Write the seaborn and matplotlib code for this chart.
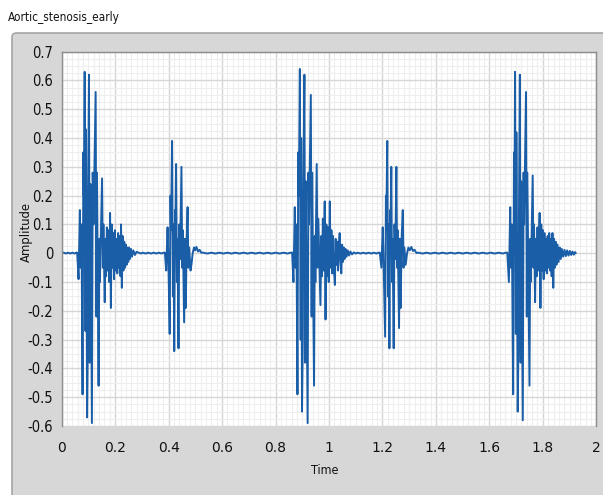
import numpy as np
import pandas as pd
import matplotlib.pyplot as plt
import seaborn as sns
from matplotlib.patches import FancyBboxPatch
from matplotlib.ticker import MultipleLocator

# (time, amplitude) points, one list per stretch of signal
quiet_0 = [(0.000, 0.001), (0.008, 0.002), (0.016, -0.001), (0.024, 0.002), (0.032, -0.001),
           (0.040, 0.002), (0.048, -0.001), (0.054, 0.002)]

s1_beat1 = [(0.058, 0.002), (0.063, -0.09), (0.068, 0.15), (0.071, -0.05), (0.074, 0.10),
            (0.078, -0.49), (0.081, 0.35), (0.083, 0.20), (0.086, 0.63), (0.089, -0.27),
            (0.091, 0.43), (0.095, -0.57), (0.098, -0.30), (0.099, 0.20), (0.102, 0.62),
            (0.105, -0.38), (0.108, 0.24), (0.113, -0.59), (0.116, 0.28), (0.119, 0.10),
            (0.127, 0.56), (0.130, -0.22), (0.132, 0.28), (0.138, -0.46), (0.141, 0.05),
            (0.143, -0.10), (0.151, 0.26), (0.154, -0.05), (0.156, 0.10), (0.161, -0.17),
            (0.164, 0.05), (0.166, -0.08), (0.169, 0.09), (0.172, -0.06), (0.175, 0.08),
            (0.178, -0.10), (0.181, 0.14), (0.184, -0.19), (0.187, 0.10), (0.190, -0.05),
            (0.193, 0.07), (0.196, -0.09), (0.199, 0.08), (0.202, -0.06), (0.205, 0.05),
            (0.208, -0.07), (0.211, 0.07), (0.214, -0.05), (0.217, 0.06), (0.220, -0.08),
            (0.222, 0.10), (0.225, -0.12), (0.228, 0.06), (0.231, -0.06), (0.234, 0.04),
            (0.237, -0.05), (0.240, 0.03), (0.243, -0.04), (0.246, 0.02), (0.249, -0.03),
            (0.252, 0.02), (0.255, -0.02), (0.259, 0.015), (0.263, -0.012), (0.268, 0.01),
            (0.274, -0.006), (0.280, 0.005)]

quiet_1 = [(0.288, 0.002), (0.296, -0.001), (0.304, 0.002), (0.314, -0.001), (0.324, 0.002),
           (0.334, -0.001), (0.344, 0.002), (0.354, -0.001), (0.364, 0.002), (0.374, -0.001),
           (0.381, 0.002)]

s2_beat1 = [(0.386, 0.002), (0.391, -0.06), (0.396, 0.09), (0.399, -0.02), (0.404, -0.28),
            (0.407, 0.20), (0.409, 0.08), (0.413, 0.39), (0.416, -0.15), (0.418, 0.10),
            (0.421, -0.34), (0.424, 0.15), (0.425, 0.05), (0.428, 0.31), (0.431, -0.10),
            (0.433, 0.05), (0.437, -0.33), (0.440, 0.10), (0.443, -0.02), (0.448, 0.30),
            (0.451, -0.05), (0.453, 0.08), (0.458, -0.24), (0.461, 0.05), (0.464, -0.19),
            (0.468, 0.06), (0.471, 0.16), (0.474, -0.05), (0.477, 0.02), (0.482, -0.06),
            (0.486, -0.035), (0.490, 0.00), (0.495, 0.02), (0.499, 0.01), (0.504, 0.022),
            (0.510, 0.006), (0.516, 0.012), (0.522, 0.002)]

quiet_2 = [(0.530, 0.002), (0.545, -0.001), (0.560, 0.002), (0.575, -0.001), (0.590, 0.002),
           (0.605, -0.001), (0.620, 0.002), (0.635, -0.001), (0.650, 0.002), (0.665, -0.001),
           (0.680, 0.002), (0.695, -0.001), (0.710, 0.002), (0.725, -0.001), (0.740, 0.002),
           (0.755, -0.001), (0.770, 0.002), (0.785, -0.001), (0.800, 0.002), (0.815, -0.001),
           (0.830, 0.002), (0.845, -0.001), (0.856, 0.002)]

s1_beat2 = [(0.862, 0.002), (0.867, -0.10), (0.872, 0.16), (0.875, -0.05), (0.878, 0.10),
            (0.882, -0.49), (0.885, 0.35), (0.887, 0.20), (0.891, 0.64), (0.894, -0.30),
            (0.896, 0.40), (0.899, -0.55), (0.902, -0.30), (0.904, 0.22), (0.908, 0.62),
            (0.911, -0.38), (0.913, 0.25), (0.920, -0.59), (0.923, 0.28), (0.925, 0.10),
            (0.932, 0.55), (0.935, -0.22), (0.937, 0.28), (0.944, -0.46), (0.947, 0.06),
            (0.949, -0.10), (0.954, 0.31), (0.957, -0.05), (0.960, 0.12), (0.968, -0.18),
            (0.971, 0.06), (0.974, -0.08), (0.977, 0.12), (0.980, -0.06), (0.984, 0.18),
            (0.987, -0.23), (0.990, 0.10), (0.993, -0.08), (0.996, 0.09), (0.999, -0.10),
            (1.003, 0.18), (1.006, -0.05), (1.009, 0.08), (1.012, -0.07), (1.015, 0.06),
            (1.018, -0.05), (1.022, -0.11), (1.025, 0.05), (1.028, -0.04), (1.031, 0.04),
            (1.034, -0.06), (1.037, 0.03), (1.040, 0.07), (1.043, -0.03), (1.046, -0.07),
            (1.049, 0.03), (1.052, -0.03), (1.055, 0.02), (1.058, -0.02), (1.062, 0.015),
            (1.066, -0.012), (1.070, 0.01), (1.075, -0.008), (1.080, 0.006), (1.086, -0.004),
            (1.093, 0.003), (1.100, -0.001)]

quiet_3 = [(1.108, 0.002), (1.118, -0.001), (1.128, 0.002), (1.138, -0.001), (1.148, 0.002),
           (1.158, -0.001), (1.168, 0.002), (1.178, -0.001), (1.185, 0.002)]

s2_beat2 = [(1.190, 0.002), (1.196, -0.05), (1.201, 0.09), (1.204, -0.02), (1.210, -0.29),
            (1.213, 0.20), (1.214, 0.08), (1.218, 0.39), (1.221, -0.15), (1.223, 0.10),
            (1.226, -0.33), (1.229, 0.15), (1.230, 0.05), (1.233, 0.30), (1.236, -0.10),
            (1.238, 0.05), (1.242, -0.33), (1.245, 0.10), (1.248, -0.02), (1.252, 0.30),
            (1.255, -0.05), (1.257, 0.08), (1.262, -0.26), (1.265, 0.05), (1.268, -0.19),
            (1.272, 0.06), (1.276, 0.15), (1.279, -0.05), (1.282, 0.02), (1.287, -0.04),
            (1.292, 0.00), (1.297, 0.02), (1.302, 0.01), (1.308, 0.022), (1.314, 0.008),
            (1.320, 0.012), (1.327, 0.001)]

quiet_4 = [(1.335, 0.002), (1.350, -0.001), (1.365, 0.002), (1.380, -0.001), (1.395, 0.002),
           (1.410, -0.001), (1.425, 0.002), (1.440, -0.001), (1.455, 0.002), (1.470, -0.001),
           (1.485, 0.002), (1.500, -0.001), (1.515, 0.002), (1.530, -0.001), (1.545, 0.002),
           (1.560, -0.001), (1.575, 0.002), (1.590, -0.001), (1.605, 0.002), (1.620, -0.001),
           (1.635, 0.002), (1.650, -0.001), (1.661, 0.002)]

s1_beat3 = [(1.667, 0.002), (1.673, -0.10), (1.678, 0.16), (1.681, -0.05), (1.684, 0.10),
            (1.689, -0.49), (1.692, 0.35), (1.694, 0.20), (1.696, 0.63), (1.699, -0.28),
            (1.701, 0.42), (1.706, -0.55), (1.709, -0.30), (1.711, 0.20), (1.714, 0.62),
            (1.717, -0.38), (1.719, 0.25), (1.725, -0.58), (1.728, 0.28), (1.730, 0.10),
            (1.737, 0.56), (1.740, -0.22), (1.742, 0.28), (1.750, -0.46), (1.753, 0.05),
            (1.755, -0.10), (1.762, 0.27), (1.765, -0.05), (1.767, 0.10), (1.771, -0.17),
            (1.774, 0.05), (1.777, -0.08), (1.780, 0.09), (1.783, -0.06), (1.788, 0.14),
            (1.791, -0.19), (1.794, 0.10), (1.797, -0.06), (1.800, 0.08), (1.803, -0.09),
            (1.806, 0.07), (1.809, -0.06), (1.812, 0.05), (1.815, -0.07), (1.818, 0.06),
            (1.821, -0.05), (1.824, 0.07), (1.827, -0.06), (1.830, 0.05), (1.833, -0.08),
            (1.836, 0.07), (1.839, -0.12), (1.842, 0.05), (1.845, -0.05), (1.848, 0.04),
            (1.851, -0.04), (1.855, 0.03), (1.859, -0.03), (1.863, 0.02), (1.867, -0.02),
            (1.871, 0.015), (1.876, -0.012), (1.881, 0.012), (1.886, -0.01), (1.891, 0.01),
            (1.896, -0.008), (1.901, 0.008), (1.906, -0.006), (1.911, 0.006), (1.916, -0.005),
            (1.921, 0.004), (1.923, 0.0)]

segments = [quiet_0, s1_beat1, quiet_1, s2_beat1, quiet_2, s1_beat2,
            quiet_3, s2_beat2, quiet_4, s1_beat3]
df = pd.DataFrame([p for seg in segments for p in seg], columns=['Time', 'Amplitude'])

W, H = 603, 495
label_font = dict(family='DejaVu Sans', stretch='condensed')

sns.set_style('white')
fig = plt.figure(figsize=(W / 100, H / 100), dpi=100)
fig.patch.set_facecolor('white')

# grey LabVIEW-like panel behind the graph
panel = FancyBboxPatch((12 / W, -0.05), 1.0, (H - 33) / H + 0.05,
                       boxstyle='round,pad=0,rounding_size=0.008',
                       transform=fig.transFigure, facecolor='#d7d7d7',
                       edgecolor='#a5a5a5', linewidth=1.2, zorder=-5)
fig.patches.append(panel)

ax = fig.add_axes([61.7 / W, (H - 426) / H, (596.3 - 61.7) / W, (426 - 51.7) / H])
ax.set_zorder(2)
ax.set_facecolor('white')

sns.lineplot(data=df, x='Time', y='Amplitude', ax=ax, color='#1b5ea8',
             linewidth=1.4, estimator=None, sort=False)

ax.set_xlim(0, 2)
ax.set_ylim(-0.6, 0.7)
ax.xaxis.set_major_locator(MultipleLocator(0.2))
ax.xaxis.set_minor_locator(MultipleLocator(0.02))
ax.yaxis.set_major_locator(MultipleLocator(0.1))
ax.yaxis.set_minor_locator(MultipleLocator(0.025))
ax.grid(which='major', color='#d6d6d6', linewidth=1.0)
ax.grid(which='minor', color='#eeeeee', linewidth=0.8)
ax.set_axisbelow(True)

xt = ax.get_xticks()
yt = ax.get_yticks()
ax.set_xticks(xt)
ax.set_yticks(yt)
ax.set_xticklabels([f'{v:g}' for v in xt], fontsize=10.5, **label_font)
ax.set_yticklabels([f'{v:.1f}'.rstrip('0').rstrip('.') if abs(v) > 1e-9 else '0' for v in yt],
                   fontsize=10.5, **label_font)
ax.set_xlim(0, 2)
ax.set_ylim(-0.6, 0.7)
ax.tick_params(axis='both', which='major', direction='out', length=4, width=1,
               color='#333333', labelcolor='#111111', pad=2)
ax.tick_params(axis='both', which='minor', length=0)
ax.tick_params(axis='x', pad=3)

for side in ['top', 'right', 'left']:
    ax.spines[side].set_color('#8c8c8c')
    ax.spines[side].set_linewidth(1.0)
ax.spines['bottom'].set_position(('outward', 4))
ax.spines['bottom'].set_visible(False)

ax.set_xlabel('')
ax.set_ylabel('')
fig.text(325 / W, 1 - 470 / H, 'Time', fontsize=9, ha='center', va='center',
         color='#111111', **label_font)
fig.text(26 / W, 1 - 232 / H, 'Amplitude', fontsize=8.4, rotation=90,
         ha='center', va='center', color='#111111')
fig.text(8 / W, 1 - 18 / H, 'Aortic_stenosis_early', fontsize=8.5,
         ha='left', va='center', color='#111111', **label_font)

fig.savefig('out.png', dpi=100, facecolor=fig.get_facecolor())
